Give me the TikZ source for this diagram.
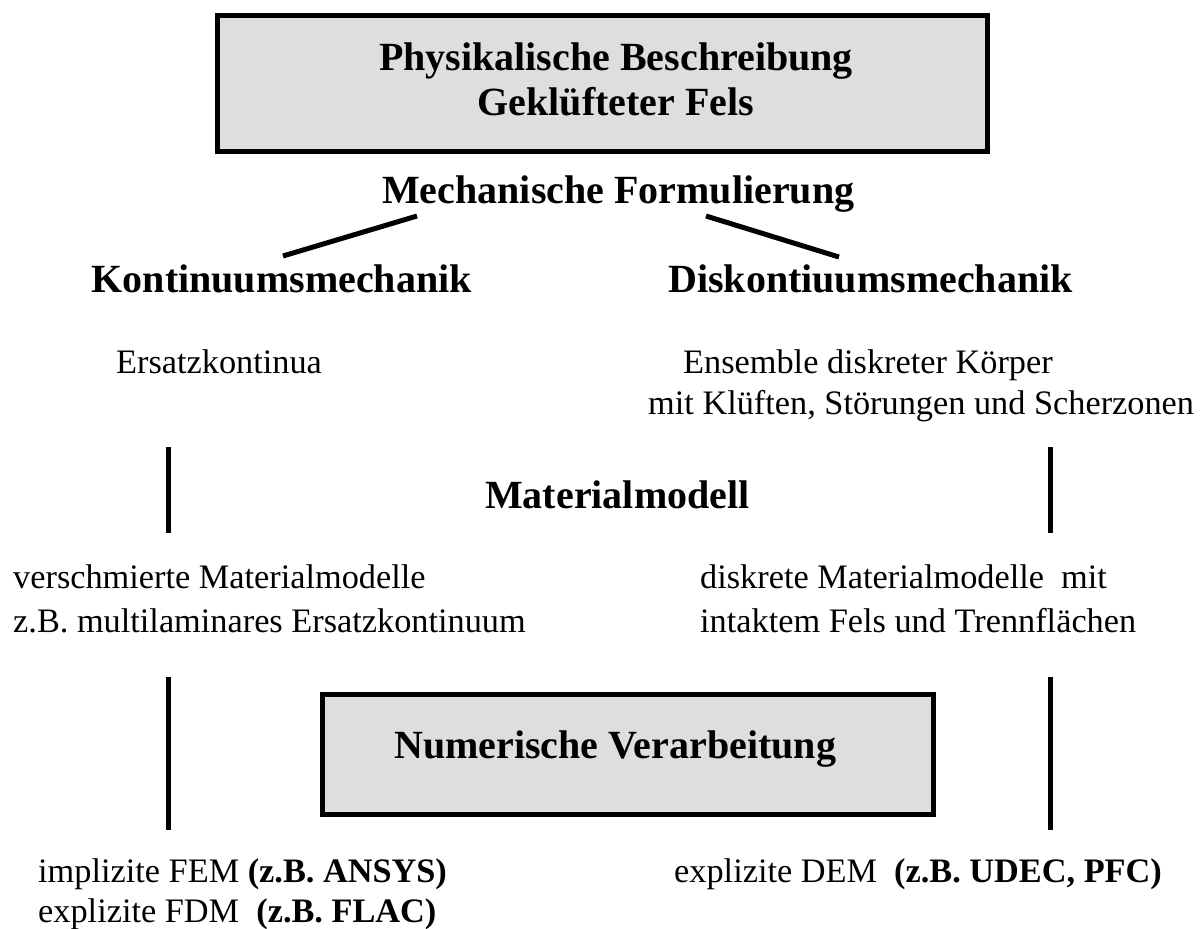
\documentclass[tikz,border=0pt]{standalone}
\usepackage{fontspec}
\setmainfont{Liberation Serif}
\definecolor{boxgrey}{HTML}{DEDEDE}
\begin{document}
\begin{tikzpicture}[x=1pt,y=-1pt,
  title/.style={font=\fontsize{40}{45}\selectfont\bfseries, inner sep=0pt},
  txt/.style={font=\fontsize{34.3}{44}\selectfont, inner sep=0pt, anchor=base west},
  gbox/.style={draw=black, line width=5pt, fill=boxgrey},
  bar/.style={line width=5pt}]
\useasboundingbox (0,0) rectangle (1203,929);
% top box
\coordinate (tbl) at (217.5,15.5);
\coordinate (tbr) at (987.5,151.5);
\path[gbox] (tbl) rectangle (tbr);
\node[title, anchor=base] (phys1) at (616,70) {Physikalische Beschreibung};
\node[title, anchor=base] (phys2) at (616,115) {Gekl\"ufteter Fels};
\node[title, anchor=base west] (mech) at (382,203) {Mechanische Formulierung};
\node[title, anchor=base east] (kont) at (472,292) {Kontinuumsmechanik};
\node[title, anchor=base east] (disk) at (1073,292) {Diskontiuumsmechanik};
\coordinate (ml) at (417,216);
\coordinate (kl) at (283,256);
\coordinate (mr) at (706,216);
\coordinate (dr) at (839,257);
\draw[bar] (ml) -- (kl);
\draw[bar] (mr) -- (dr);
% second level
\node[txt] (ersatz) at (116,373) {Ersatzkontinua};
\node[txt] (ens1) at (683,373) {Ensemble diskreter K\"orper};
\node[txt] (ens2) at (648,414) {mit Kl\"uften, St\"orungen und Scherzonen};
% bars 1
\coordinate (b1t) at (168,447); \coordinate (b1b) at (168,533);
\coordinate (b2t) at (1050,447); \coordinate (b2b) at (1050,533);
\draw[bar] (b1t) -- (b1b);
\draw[bar] (b2t) -- (b2b);
\node[title, anchor=base west] (mat) at (485,508) {Materialmodell};
\node[txt] (vm1) at (13,588) {verschmierte Materialmodelle};
\node[txt] (vm2) at (13,632) {z.B. multilaminares Ersatzkontinuum};
\node[txt] (dm1) at (700,588) {diskrete Materialmodelle\ \ mit};
\node[txt] (dm2) at (700,632) {intaktem Fels und Trennfl\"achen};
% bars 2
\coordinate (b3t) at (168,677); \coordinate (b3b) at (168,830);
\coordinate (b4t) at (1050,677); \coordinate (b4b) at (1050,830);
\draw[bar] (b3t) -- (b3b);
\draw[bar] (b4t) -- (b4b);
\coordinate (nbl) at (322.5,694.5);
\coordinate (nbr) at (933.5,814.5);
\path[gbox] (nbl) rectangle (nbr);
\node[title, anchor=base west] (numt) at (394,758) {Numerische Verarbeitung};
\node[txt] (fem) at (38,882) {implizite FEM \textbf{(z.B. ANSYS)}};
\node[txt] (fdm) at (38,922) {explizite FDM\ \ \textbf{(z.B. FLAC)}};
\node[txt] (dem) at (674,882) {explizite DEM\ \ \textbf{(z.B. UDEC, PFC)}};
\end{tikzpicture}
\end{document}
